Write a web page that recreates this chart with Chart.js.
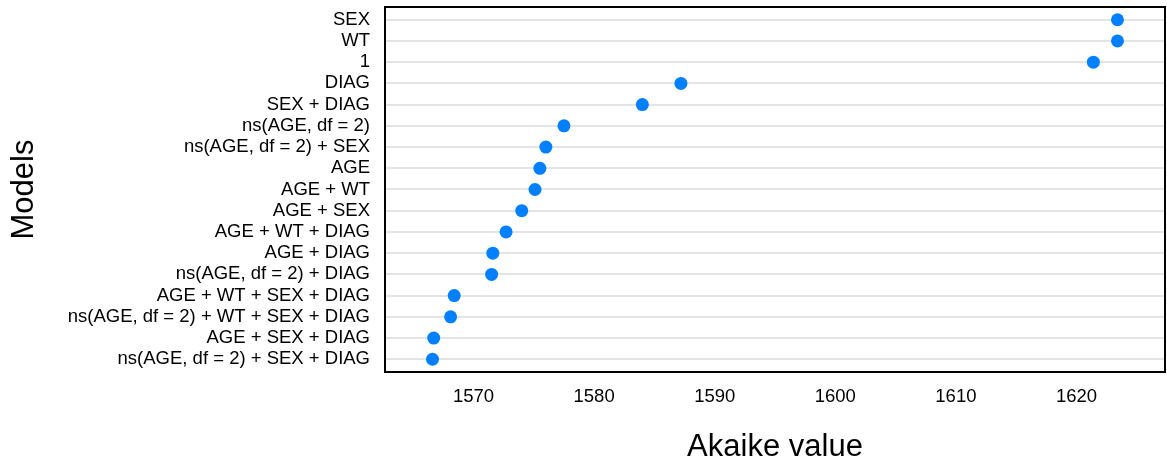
<!DOCTYPE html>
<html>
<head>
<meta charset="utf-8">
<script src="https://cdn.jsdelivr.net/npm/chart.js@4.4.1/dist/chart.umd.min.js"></script>
<style>
  body { margin: 0; background: #fff; }
  #wrap { width: 1167px; height: 466px; }
</style>
</head>
<body>
<div id="wrap"><canvas id="aicChart" width="1167" height="466"></canvas></div>
<script>
// models, listed from top row to bottom row
const models = [
    "SEX", "WT", "1", "DIAG", "SEX + DIAG",
    "ns(AGE, df = 2)", "ns(AGE, df = 2) + SEX", "AGE", "AGE + WT",
    "AGE + SEX", "AGE + WT + DIAG", "AGE + DIAG", "ns(AGE, df = 2) + DIAG",
    "AGE + WT + SEX + DIAG", "ns(AGE, df = 2) + WT + SEX + DIAG",
    "AGE + SEX + DIAG", "ns(AGE, df = 2) + SEX + DIAG"
];
const aicValues = [
    1623.4, 1623.4, 1621.4, 1587.2, 1584.0,
    1577.5, 1576.0, 1575.5, 1575.1,
    1574.0, 1572.7, 1571.6, 1571.5,
    1568.4, 1568.1,
    1566.7, 1566.6
];
const xTicks = [1570, 1580, 1590, 1600, 1610, 1620];

const points = aicValues.map((v, i) => ({ x: v, y: i }));

// black frame round the plotting region
const frame = {
    id: "frame",
    afterDraw(chart) {
        const a = chart.chartArea;
        const ctx = chart.ctx;
        ctx.save();
        ctx.strokeStyle = "#000";
        ctx.lineWidth = 2;
        ctx.strokeRect(a.left, a.top, a.right - a.left, a.bottom - a.top);
        ctx.restore();
    }
};

const font = "'Liberation Sans', Arial, sans-serif";

new Chart("aicChart", {
    type: "scatter",
    data: {
        datasets: [{
            data: points,
            backgroundColor: "#0080ff",
            borderWidth: 0,
            pointRadius: 6.5,
            pointHoverRadius: 6.5
        }]
    },
    options: {
        responsive: false,
        animation: false,
        layout: { autoPadding: false, padding: { top: 7, right: 2, left: 0, bottom: 0 } },
        plugins: {
            legend: { display: false },
            tooltip: { enabled: false }
        },
        scales: {
            x: {
                type: "linear",
                min: 1562.66,
                max: 1627.34,
                grid: { display: false },
                border: { display: false },
                ticks: {
                    padding: 6,
                    color: "#000",
                    font: { family: font, size: 18.5 },
                    callback: v => String(v)
                },
                afterBuildTicks: axis => { axis.ticks = xTicks.map(v => ({ value: v })); },
                afterFit: axis => {
                    axis.height = 94;
                    axis.paddingLeft = 0;
                    axis.paddingRight = 0;
                },
                title: {
                    display: true,
                    text: "Akaike value",
                    color: "#000",
                    font: { family: font, size: 31 },
                    padding: { top: 0, bottom: 0 }
                }
            },
            y: {
                type: "linear",
                reverse: true,
                min: -0.6,
                max: 16.6,
                grid: { color: "#e4e4e4", lineWidth: 2, drawTicks: false },
                border: { display: false },
                ticks: {
                    autoSkip: false,
                    padding: 15,
                    color: "#000",
                    font: { family: font, size: 18.5 },
                    callback: v => models[v]
                },
                afterBuildTicks: axis => { axis.ticks = models.map((m, i) => ({ value: i })); },
                afterFit: axis => {
                    axis.width = 385;
                    axis.paddingTop = 0;
                    axis.paddingBottom = 0;
                },
                title: {
                    display: true,
                    text: "Models",
                    color: "#000",
                    font: { family: font, size: 31 },
                    padding: { top: 6, bottom: 0 }
                }
            }
        }
    },
    plugins: [frame]
});
</script>
</body>
</html>
